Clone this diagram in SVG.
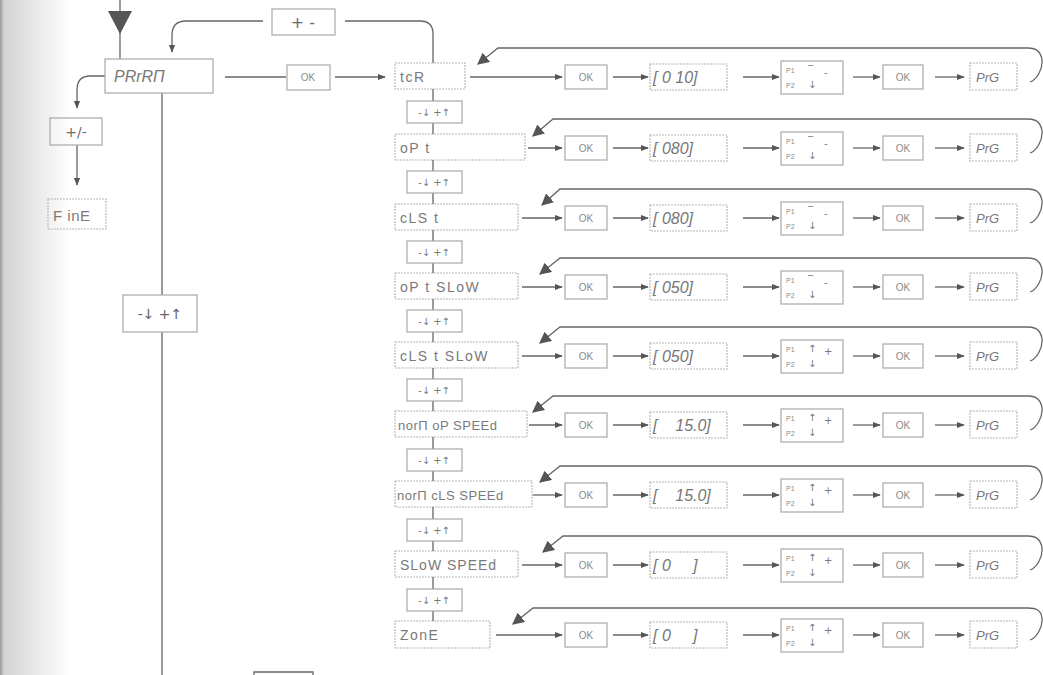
<svg xmlns="http://www.w3.org/2000/svg" width="1043" height="675" viewBox="0 0 1043 675">
<defs>
<linearGradient id="edge" x1="0" y1="0" x2="1" y2="0">
<stop offset="0" stop-color="#9a9a9a"/>
<stop offset="0.06" stop-color="#d4d4d4"/>
<stop offset="1" stop-color="#ffffff"/>
</linearGradient>
<marker id="ah" viewBox="0 0 10 10" refX="9" refY="5" markerWidth="8" markerHeight="8" markerUnits="userSpaceOnUse" orient="auto">
<path d="M0,1 L10,5 L0,9 z" fill="#555"/>
</marker>
<marker id="fb" viewBox="0 0 10 10" refX="9" refY="5" markerWidth="12" markerHeight="12" markerUnits="userSpaceOnUse" orient="auto">
<path d="M0,0 L10,5 L0,10 z" fill="#555"/>
</marker>
<style>
.ln{fill:none;stroke:#666;stroke-width:1.3}
.bx{fill:none;stroke:#a8a8a8;stroke-width:1.2}
.bd{fill:none;stroke:#b5b5b5;stroke-width:1.1;stroke-dasharray:2 1}
.lab{font-family:"DejaVu Sans","Liberation Sans",sans-serif;font-size:16px;fill:#6a6a6a}
.seg{font-family:"Liberation Sans",sans-serif;font-style:italic;font-size:16px;fill:#777}
.prg{font-family:"Liberation Sans",sans-serif;font-style:italic;font-size:13px;fill:#777}
.row{font-family:"Liberation Sans",sans-serif;font-size:14px;fill:#7a7a7a;letter-spacing:1.5px}
.rows{font-family:"Liberation Sans",sans-serif;font-size:13px;fill:#7a7a7a;letter-spacing:0.5px}
.ok{font-family:"Liberation Sans",sans-serif;font-size:10px;fill:#8a8a8a}
.sm{font-family:"Liberation Sans",sans-serif;font-size:7px;fill:#8a8a8a}
.ud{font-family:"DejaVu Sans",sans-serif;font-size:10px;fill:#777}
.udl{font-family:"DejaVu Sans",sans-serif;font-size:14px;fill:#666}
</style>
</defs>
<rect x="0" y="0" width="1043" height="675" fill="#fff"/>
<rect x="0" y="0" width="70" height="675" fill="url(#edge)"/>

<g id="connectors">
<line class="ln" x1="120" y1="0" x2="120" y2="59"/>
<path class="ln" d="M263,21 H186 Q172,21 172,35 V52" marker-end="url(#ah)"/>
<path class="ln" d="M345,21 H420 Q433,21 433,34 V63"/>
<path class="ln" d="M105,76 H90 Q77,76 77,90 V108" marker-end="url(#ah)"/>
<line class="ln" x1="77" y1="145" x2="77" y2="185" marker-end="url(#ah)"/>
<line class="ln" x1="225" y1="77" x2="286" y2="77"/>
<line class="ln" x1="335" y1="77" x2="385" y2="77" marker-end="url(#ah)"/>
<line class="ln" x1="162" y1="93" x2="162" y2="295"/>
<line class="ln" x1="162" y1="332" x2="162" y2="675"/>
<path class="ln" d="M254,675 V672 H313 V675"/>
</g>

<polygon points="108,11 132,11 120,34" fill="#555"/>

<g id="plusminus"><rect class="bx" x="272" y="9" width="63" height="26"/><text class="lab" x="303" y="28" text-anchor="middle">+ -</text></g>
<g id="param"><rect class="bx" x="105" y="59" width="108" height="34"/><text class="seg" x="114" y="82">PRrRΠ</text></g>
<g id="okparam"><rect class="bx" x="287" y="65" width="43" height="25"/><text class="ok" x="308" y="81" text-anchor="middle">OK</text></g>
<g id="pm"><rect class="bx" x="50" y="118" width="52" height="27"/><text class="lab" x="76" y="137" text-anchor="middle" style="font-size:14px">+/-</text></g>
<g id="fine"><rect class="bd" x="48" y="199" width="58" height="30"/><text class="row" x="53" y="221" style="font-size:15px;letter-spacing:0.5px">F inE</text></g>
<g id="updownleft"><rect class="bx" x="123" y="295" width="74" height="37"/><text class="udl" x="160" y="319" text-anchor="middle">-↓ +↑</text></g>

<g id="r0">
<line class="ln" x1="470" y1="77" x2="562" y2="77" marker-end="url(#ah)"/>
<path class="ln" d="M1030,82 C1036,80 1043,70 1042,60 C1041,52 1036,48 1028,48 H498 L478,64" marker-end="url(#fb)"/>
<line class="ln" x1="613" y1="77" x2="648" y2="77" marker-end="url(#ah)"/>
<line class="ln" x1="743" y1="77" x2="779" y2="77" marker-end="url(#ah)"/>
<line class="ln" x1="853" y1="77" x2="880" y2="77" marker-end="url(#ah)"/>
<line class="ln" x1="935" y1="77" x2="964" y2="77" marker-end="url(#ah)"/>
<rect class="bd" x="395" y="63" width="70" height="26"/><text class="row" x="400" y="82">tcR</text>
<rect class="bx" x="565" y="65" width="42" height="24"/><text class="ok" x="586" y="81" text-anchor="middle">OK</text>
<rect class="bd" x="650" y="64" width="77" height="26"/><text class="seg" x="653" y="83" xml:space="preserve">[ 0 10]</text>
<rect class="bx" x="781" y="61" width="62" height="33"/><text class="sm" x="786" y="73">P1</text><text class="sm" x="786" y="88">P2</text><text class="ud" x="808" y="73">‾</text><text class="ud" x="808" y="88">↓</text><text class="ud" x="824" y="76">-</text>
<rect class="bx" x="883" y="65" width="40" height="24"/><text class="ok" x="903" y="81" text-anchor="middle">OK</text>
<rect class="bd" x="970" y="63" width="47" height="27"/><text class="prg" x="976" y="82">PrG</text>
</g>

<g id="r1">
<line class="ln" x1="528" y1="148" x2="562" y2="148" marker-end="url(#ah)"/>
<path class="ln" d="M1030,153 C1036,151 1043,141 1042,131 C1041,123 1036,119 1028,119 H553 L533,136" marker-end="url(#fb)"/>
<line class="ln" x1="613" y1="148" x2="648" y2="148" marker-end="url(#ah)"/>
<line class="ln" x1="743" y1="148" x2="779" y2="148" marker-end="url(#ah)"/>
<line class="ln" x1="853" y1="148" x2="880" y2="148" marker-end="url(#ah)"/>
<line class="ln" x1="935" y1="148" x2="964" y2="148" marker-end="url(#ah)"/>
<rect class="bd" x="395" y="134" width="130" height="26"/><text class="row" x="400" y="153">oP t</text>
<rect class="bx" x="565" y="136" width="42" height="24"/><text class="ok" x="586" y="152" text-anchor="middle">OK</text>
<rect class="bd" x="650" y="135" width="77" height="26"/><text class="seg" x="653" y="154" xml:space="preserve">[ 080]</text>
<rect class="bx" x="781" y="132" width="62" height="33"/><text class="sm" x="786" y="144">P1</text><text class="sm" x="786" y="159">P2</text><text class="ud" x="808" y="144">‾</text><text class="ud" x="808" y="159">↓</text><text class="ud" x="824" y="147">-</text>
<rect class="bx" x="883" y="136" width="40" height="24"/><text class="ok" x="903" y="152" text-anchor="middle">OK</text>
<rect class="bd" x="970" y="134" width="47" height="27"/><text class="prg" x="976" y="153">PrG</text>
</g>

<g id="r2">
<line class="ln" x1="522" y1="218" x2="562" y2="218" marker-end="url(#ah)"/>
<path class="ln" d="M1030,223 C1036,221 1043,211 1042,201 C1041,193 1036,189 1028,189 H560 L542,205" marker-end="url(#fb)"/>
<line class="ln" x1="613" y1="218" x2="648" y2="218" marker-end="url(#ah)"/>
<line class="ln" x1="743" y1="218" x2="779" y2="218" marker-end="url(#ah)"/>
<line class="ln" x1="853" y1="218" x2="880" y2="218" marker-end="url(#ah)"/>
<line class="ln" x1="935" y1="218" x2="964" y2="218" marker-end="url(#ah)"/>
<rect class="bd" x="395" y="204" width="123" height="26"/><text class="row" x="400" y="223">cLS t</text>
<rect class="bx" x="565" y="206" width="42" height="24"/><text class="ok" x="586" y="222" text-anchor="middle">OK</text>
<rect class="bd" x="650" y="205" width="77" height="26"/><text class="seg" x="653" y="224" xml:space="preserve">[ 080]</text>
<rect class="bx" x="781" y="202" width="62" height="33"/><text class="sm" x="786" y="214">P1</text><text class="sm" x="786" y="229">P2</text><text class="ud" x="808" y="214">‾</text><text class="ud" x="808" y="229">↓</text><text class="ud" x="824" y="217">-</text>
<rect class="bx" x="883" y="206" width="40" height="24"/><text class="ok" x="903" y="222" text-anchor="middle">OK</text>
<rect class="bd" x="970" y="204" width="47" height="27"/><text class="prg" x="976" y="223">PrG</text>
</g>

<g id="r3">
<line class="ln" x1="522" y1="287" x2="562" y2="287" marker-end="url(#ah)"/>
<path class="ln" d="M1030,292 C1036,290 1043,280 1042,270 C1041,262 1036,258 1028,258 H560 L540,274" marker-end="url(#fb)"/>
<line class="ln" x1="613" y1="287" x2="648" y2="287" marker-end="url(#ah)"/>
<line class="ln" x1="743" y1="287" x2="779" y2="287" marker-end="url(#ah)"/>
<line class="ln" x1="853" y1="287" x2="880" y2="287" marker-end="url(#ah)"/>
<line class="ln" x1="935" y1="287" x2="964" y2="287" marker-end="url(#ah)"/>
<rect class="bd" x="395" y="273" width="123" height="26"/><text class="row" x="400" y="292">oP t SLoW</text>
<rect class="bx" x="565" y="275" width="42" height="24"/><text class="ok" x="586" y="291" text-anchor="middle">OK</text>
<rect class="bd" x="650" y="274" width="77" height="26"/><text class="seg" x="653" y="293" xml:space="preserve">[ 050]</text>
<rect class="bx" x="781" y="271" width="62" height="33"/><text class="sm" x="786" y="283">P1</text><text class="sm" x="786" y="298">P2</text><text class="ud" x="808" y="283">‾</text><text class="ud" x="808" y="298">↓</text><text class="ud" x="824" y="286">-</text>
<rect class="bx" x="883" y="275" width="40" height="24"/><text class="ok" x="903" y="291" text-anchor="middle">OK</text>
<rect class="bd" x="970" y="273" width="47" height="27"/><text class="prg" x="976" y="292">PrG</text>
</g>

<g id="r4">
<line class="ln" x1="522" y1="356" x2="562" y2="356" marker-end="url(#ah)"/>
<path class="ln" d="M1030,361 C1036,359 1043,349 1042,339 C1041,331 1036,327 1028,327 H560 L540,343" marker-end="url(#fb)"/>
<line class="ln" x1="613" y1="356" x2="648" y2="356" marker-end="url(#ah)"/>
<line class="ln" x1="743" y1="356" x2="779" y2="356" marker-end="url(#ah)"/>
<line class="ln" x1="853" y1="356" x2="880" y2="356" marker-end="url(#ah)"/>
<line class="ln" x1="935" y1="356" x2="964" y2="356" marker-end="url(#ah)"/>
<rect class="bd" x="395" y="342" width="123" height="26"/><text class="row" x="400" y="361">cLS t SLoW</text>
<rect class="bx" x="565" y="344" width="42" height="24"/><text class="ok" x="586" y="360" text-anchor="middle">OK</text>
<rect class="bd" x="650" y="343" width="77" height="26"/><text class="seg" x="653" y="362" xml:space="preserve">[ 050]</text>
<rect class="bx" x="781" y="340" width="62" height="33"/><text class="sm" x="786" y="352">P1</text><text class="sm" x="786" y="367">P2</text><text class="ud" x="808" y="352">↑</text><text class="ud" x="808" y="367">↓</text><text class="ud" x="824" y="355">+</text>
<rect class="bx" x="883" y="344" width="40" height="24"/><text class="ok" x="903" y="360" text-anchor="middle">OK</text>
<rect class="bd" x="970" y="342" width="47" height="27"/><text class="prg" x="976" y="361">PrG</text>
</g>

<g id="r5">
<line class="ln" x1="529" y1="425" x2="562" y2="425" marker-end="url(#ah)"/>
<path class="ln" d="M1030,430 C1036,428 1043,418 1042,408 C1041,400 1036,396 1028,396 H553 L533,412" marker-end="url(#fb)"/>
<line class="ln" x1="613" y1="425" x2="648" y2="425" marker-end="url(#ah)"/>
<line class="ln" x1="743" y1="425" x2="779" y2="425" marker-end="url(#ah)"/>
<line class="ln" x1="853" y1="425" x2="880" y2="425" marker-end="url(#ah)"/>
<line class="ln" x1="935" y1="425" x2="964" y2="425" marker-end="url(#ah)"/>
<rect class="bd" x="395" y="411" width="132" height="26"/><text class="rows" x="398" y="430">norΠ oP SPEEd</text>
<rect class="bx" x="565" y="413" width="42" height="24"/><text class="ok" x="586" y="429" text-anchor="middle">OK</text>
<rect class="bd" x="650" y="412" width="77" height="26"/><text class="seg" x="653" y="431" xml:space="preserve">[    15.0]</text>
<rect class="bx" x="781" y="409" width="62" height="33"/><text class="sm" x="786" y="421">P1</text><text class="sm" x="786" y="436">P2</text><text class="ud" x="808" y="421">↑</text><text class="ud" x="808" y="436">↓</text><text class="ud" x="824" y="424">+</text>
<rect class="bx" x="883" y="413" width="40" height="24"/><text class="ok" x="903" y="429" text-anchor="middle">OK</text>
<rect class="bd" x="970" y="411" width="47" height="27"/><text class="prg" x="976" y="430">PrG</text>
</g>

<g id="r6">
<line class="ln" x1="533" y1="495" x2="562" y2="495" marker-end="url(#ah)"/>
<path class="ln" d="M1030,500 C1036,498 1043,488 1042,478 C1041,470 1036,466 1028,466 H560 L540,482" marker-end="url(#fb)"/>
<line class="ln" x1="613" y1="495" x2="648" y2="495" marker-end="url(#ah)"/>
<line class="ln" x1="743" y1="495" x2="779" y2="495" marker-end="url(#ah)"/>
<line class="ln" x1="853" y1="495" x2="880" y2="495" marker-end="url(#ah)"/>
<line class="ln" x1="935" y1="495" x2="964" y2="495" marker-end="url(#ah)"/>
<rect class="bd" x="395" y="481" width="137" height="26"/><text class="rows" x="397" y="500">norΠ cLS SPEEd</text>
<rect class="bx" x="565" y="483" width="42" height="24"/><text class="ok" x="586" y="499" text-anchor="middle">OK</text>
<rect class="bd" x="650" y="482" width="77" height="26"/><text class="seg" x="653" y="501" xml:space="preserve">[    15.0]</text>
<rect class="bx" x="781" y="479" width="62" height="33"/><text class="sm" x="786" y="491">P1</text><text class="sm" x="786" y="506">P2</text><text class="ud" x="808" y="491">↑</text><text class="ud" x="808" y="506">↓</text><text class="ud" x="824" y="494">+</text>
<rect class="bx" x="883" y="483" width="40" height="24"/><text class="ok" x="903" y="499" text-anchor="middle">OK</text>
<rect class="bd" x="970" y="481" width="47" height="27"/><text class="prg" x="976" y="500">PrG</text>
</g>

<g id="r7">
<line class="ln" x1="522" y1="565" x2="562" y2="565" marker-end="url(#ah)"/>
<path class="ln" d="M1030,570 C1036,568 1043,558 1042,548 C1041,540 1036,536 1028,536 H563 L543,552" marker-end="url(#fb)"/>
<line class="ln" x1="613" y1="565" x2="648" y2="565" marker-end="url(#ah)"/>
<line class="ln" x1="743" y1="565" x2="779" y2="565" marker-end="url(#ah)"/>
<line class="ln" x1="853" y1="565" x2="880" y2="565" marker-end="url(#ah)"/>
<line class="ln" x1="935" y1="565" x2="964" y2="565" marker-end="url(#ah)"/>
<rect class="bd" x="395" y="551" width="123" height="26"/><text class="row" x="400" y="570" style="letter-spacing:1px">SLoW SPEEd</text>
<rect class="bx" x="565" y="553" width="42" height="24"/><text class="ok" x="586" y="569" text-anchor="middle">OK</text>
<rect class="bd" x="650" y="552" width="77" height="26"/><text class="seg" x="653" y="571" xml:space="preserve">[ 0     ]</text>
<rect class="bx" x="781" y="549" width="62" height="33"/><text class="sm" x="786" y="561">P1</text><text class="sm" x="786" y="576">P2</text><text class="ud" x="808" y="561">↑</text><text class="ud" x="808" y="576">↓</text><text class="ud" x="824" y="564">+</text>
<rect class="bx" x="883" y="553" width="40" height="24"/><text class="ok" x="903" y="569" text-anchor="middle">OK</text>
<rect class="bd" x="970" y="551" width="47" height="27"/><text class="prg" x="976" y="570">PrG</text>
</g>

<g id="r8">
<line class="ln" x1="496" y1="635" x2="562" y2="635" marker-end="url(#ah)"/>
<path class="ln" d="M1030,640 C1036,638 1043,628 1042,618 C1041,610 1036,608 1028,608 H533 L513,624" marker-end="url(#fb)"/>
<line class="ln" x1="613" y1="635" x2="648" y2="635" marker-end="url(#ah)"/>
<line class="ln" x1="743" y1="635" x2="779" y2="635" marker-end="url(#ah)"/>
<line class="ln" x1="853" y1="635" x2="880" y2="635" marker-end="url(#ah)"/>
<line class="ln" x1="935" y1="635" x2="964" y2="635" marker-end="url(#ah)"/>
<rect class="bd" x="395" y="621" width="95" height="27"/><text class="row" x="400" y="640">ZonE</text>
<rect class="bx" x="565" y="623" width="42" height="24"/><text class="ok" x="586" y="639" text-anchor="middle">OK</text>
<rect class="bd" x="650" y="622" width="77" height="26"/><text class="seg" x="653" y="641" xml:space="preserve">[ 0     ]</text>
<rect class="bx" x="781" y="619" width="62" height="33"/><text class="sm" x="786" y="631">P1</text><text class="sm" x="786" y="646">P2</text><text class="ud" x="808" y="631">↑</text><text class="ud" x="808" y="646">↓</text><text class="ud" x="824" y="634">+</text>
<rect class="bx" x="883" y="623" width="40" height="24"/><text class="ok" x="903" y="639" text-anchor="middle">OK</text>
<rect class="bd" x="970" y="621" width="47" height="27"/><text class="prg" x="976" y="640">PrG</text>
</g>

<g id="column">
<path class="ln" d="M433,89 V101 M433,123 V134 M433,160 V171 M433,193 V204 M433,230 V241 M433,263 V273 M433,299 V310 M433,332 V342 M433,368 V379 M433,401 V411 M433,437 V449 M433,471 V481 M433,507 V519 M433,541 V551 M433,577 V589 M433,611 V621"/>
<g id="ud1"><rect class="bx" x="407" y="101" width="55" height="22"/><text class="ud" x="434" y="116" text-anchor="middle">-↓ +↑</text></g>
<g id="ud2"><rect class="bx" x="407" y="171" width="55" height="22"/><text class="ud" x="434" y="186" text-anchor="middle">-↓ +↑</text></g>
<g id="ud3"><rect class="bx" x="407" y="241" width="55" height="22"/><text class="ud" x="434" y="256" text-anchor="middle">-↓ +↑</text></g>
<g id="ud4"><rect class="bx" x="407" y="310" width="55" height="22"/><text class="ud" x="434" y="325" text-anchor="middle">-↓ +↑</text></g>
<g id="ud5"><rect class="bx" x="407" y="379" width="55" height="22"/><text class="ud" x="434" y="394" text-anchor="middle">-↓ +↑</text></g>
<g id="ud6"><rect class="bx" x="407" y="449" width="55" height="22"/><text class="ud" x="434" y="464" text-anchor="middle">-↓ +↑</text></g>
<g id="ud7"><rect class="bx" x="407" y="519" width="55" height="22"/><text class="ud" x="434" y="534" text-anchor="middle">-↓ +↑</text></g>
<g id="ud8"><rect class="bx" x="407" y="589" width="55" height="22"/><text class="ud" x="434" y="604" text-anchor="middle">-↓ +↑</text></g>
</g>
</svg>
